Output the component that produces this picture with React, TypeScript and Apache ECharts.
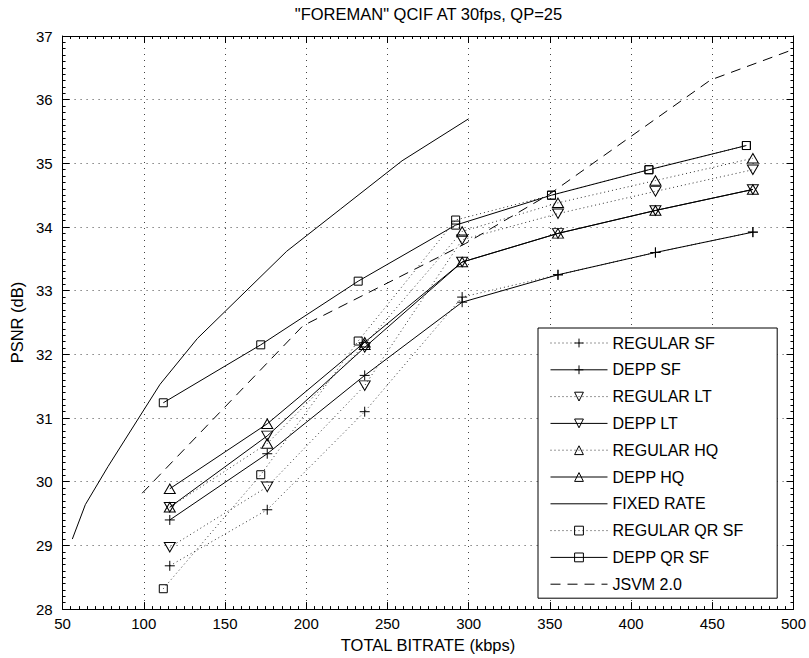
import React, { useEffect, useRef } from 'react';
import * as echarts from 'echarts';

const FONT = '"Liberation Sans", Arial, Helvetica, sans-serif';

const titleText = '"FOREMAN" QCIF AT 30fps, QP=25';
const xName = 'TOTAL BITRATE (kbps)';
const yName = 'PSNR (dB)';

// bitrates (kbps) of the marker series
const squareRates = [112, 172, 232, 292, 351, 411, 471];
const markerRates = [116, 176, 236, 296, 355, 415, 475];

// PSNR values (dB)
const regularSF = [28.68, 29.56, 31.10, 32.90, 33.25, 33.60, 33.92];
const deppSF = [29.40, 30.44, 31.67, 32.82, 33.25, 33.60, 33.92];
const regularLT = [28.97, 29.92, 31.51, 33.80, 34.21, 34.56, 34.90];
const deppLT = [29.60, 30.72, 32.11, 33.45, 33.90, 34.26, 34.59];
const regularHQ = [29.60, 30.60, 32.15, 33.93, 34.38, 34.73, 35.08];
const deppHQ = [29.89, 30.91, 32.19, 33.45, 33.90, 34.26, 34.59];
const regularQRSF = [28.32, 30.11, 32.21, 34.11, 34.50, 34.90, 35.28];
const deppQRSF = [31.24, 32.15, 33.15, 34.03, 34.50, 34.90, 35.28];

const fixedRateX = [56, 64, 78, 110, 133, 188, 221, 259, 300];
const fixedRateY = [29.10, 29.64, 30.24, 31.53, 32.25, 33.62, 34.28, 35.04, 35.70];

const jsvmX = [99, 198, 298, 350, 449, 500];
const jsvmY = [29.82, 32.45, 33.74, 34.52, 36.31, 36.79];

const PLUS = 'path://M5,0L5,10M0,5L10,5';

function pairs(xs: number[], ys: number[]) {
  return xs.map((x, i) => [x, ys[i]]);
}

const solidLine = { type: 'solid', width: 1, color: '#000' };
const dottedLine = { type: [1, 3], width: 1, color: '#333' };
const dashedLine = { type: [10, 7], width: 1, color: '#000' };

function markerSeries(name: string, xs: number[], ys: number[], symbol: string, size: any, rotate: number, line: any) {
  return {
    name,
    type: 'line',
    data: pairs(xs, ys),
    symbol,
    symbolSize: size,
    symbolRotate: rotate,
    showSymbol: true,
    showAllSymbol: true,
    lineStyle: line,
    itemStyle: { color: 'rgba(0,0,0,0)', borderColor: '#000', borderWidth: 1 },
    emphasis: { disabled: true },
    silent: true,
    clip: false,
    z: 3,
  };
}

function plainSeries(name: string, xs: number[], ys: number[], line: any) {
  return {
    name,
    type: 'line',
    data: pairs(xs, ys),
    symbol: 'circle',
    symbolSize: 0,
    showSymbol: false,
    lineStyle: line,
    itemStyle: { color: 'rgba(0,0,0,0)', borderColor: 'rgba(0,0,0,0)', borderWidth: 0 },
    emphasis: { disabled: true },
    silent: true,
    z: 2,
  };
}

const TRI = [11, 9.5];

export default function App() {
  const ref = useRef<HTMLDivElement>(null);
  useEffect(() => {
    if (!ref.current) return;
    const chart = echarts.init(ref.current, undefined, { renderer: 'svg' });
    const series = [
      markerSeries('REGULAR SF', markerRates, regularSF, PLUS, 10, 0, dottedLine),
      markerSeries('DEPP SF', markerRates, deppSF, PLUS, 10, 0, solidLine),
      markerSeries('REGULAR LT', markerRates, regularLT, 'triangle', TRI, 180, dottedLine),
      markerSeries('DEPP LT', markerRates, deppLT, 'triangle', TRI, 180, solidLine),
      markerSeries('REGULAR HQ', markerRates, regularHQ, 'triangle', TRI, 0, dottedLine),
      markerSeries('DEPP HQ', markerRates, deppHQ, 'triangle', TRI, 0, solidLine),
      plainSeries('FIXED RATE', fixedRateX, fixedRateY, solidLine),
      markerSeries('REGULAR QR SF', squareRates, regularQRSF, 'rect', 8, 0, dottedLine),
      markerSeries('DEPP QR SF', squareRates, deppQRSF, 'rect', 8, 0, solidLine),
      plainSeries('JSVM 2.0', jsvmX, jsvmY, dashedLine),
    ];
    const axisCommon = {
      axisLine: { show: true, onZero: false, lineStyle: { color: '#000', width: 1 } },
      axisTick: { show: true, inside: true, length: 7, lineStyle: { color: '#000', width: 1 } },
      minorTick: { show: true, splitNumber: 10, length: 3, lineStyle: { color: '#000', width: 1 } },
    };
    const gridLine = { show: true, lineStyle: { color: '#444', type: [1, 5], width: 1 } };
    chart.setOption({
      animation: false,
      backgroundColor: '#fff',
      grid: { left: 62, top: 36, right: 14, bottom: 45, containLabel: false },
      graphic: [
        {
          type: 'text',
          x: 428.5,
          y: 14,
          style: {
            text: titleText,
            align: 'center',
            verticalAlign: 'middle',
            fontSize: 16.5,
            fontFamily: FONT,
            fill: '#000',
          },
        },
      ],
      xAxis: [
        {
          type: 'value',
          min: 50,
          max: 500,
          interval: 50,
          position: 'bottom',
          ...axisCommon,
          axisLabel: { color: '#000', fontSize: 15, fontFamily: FONT, margin: 7 },
          splitLine: gridLine,
          name: xName,
          nameLocation: 'middle',
          nameGap: 24,
          nameTextStyle: { color: '#000', fontSize: 16.5, fontFamily: FONT },
        },
        {
          type: 'value',
          min: 50,
          max: 500,
          interval: 50,
          position: 'top',
          ...axisCommon,
          axisLabel: { show: false },
          splitLine: { show: false },
        },
      ],
      yAxis: [
        {
          type: 'value',
          min: 28,
          max: 37,
          interval: 1,
          position: 'left',
          ...axisCommon,
          axisLabel: { color: '#000', fontSize: 15, fontFamily: FONT, margin: 10 },
          splitLine: gridLine,
          name: yName,
          nameLocation: 'middle',
          nameGap: 34,
          nameTextStyle: { color: '#000', fontSize: 16.5, fontFamily: FONT },
        },
        {
          type: 'value',
          min: 28,
          max: 37,
          interval: 1,
          position: 'right',
          ...axisCommon,
          axisLabel: { show: false },
          splitLine: { show: false },
        },
      ],
      legend: {
        orient: 'vertical',
        left: 538,
        top: 328,
        itemWidth: 57,
        itemHeight: 11,
        itemGap: 9.8,
        padding: [6.5, 34, 5.5, 12],
        backgroundColor: '#fff',
        borderColor: '#000',
        borderWidth: 1,
        borderRadius: 0,
        selectedMode: false,
        textStyle: { fontSize: 16, fontFamily: FONT, color: '#000', lineHeight: 17 },
        itemStyle: { borderWidth: 1 },
        lineStyle: { width: 1 },
        data: series.map((s) => s.name),
      },
      series,
    });
    return () => chart.dispose();
  }, []);
  return (
    <div
      ref={ref}
      style={{ position: 'absolute', left: 0, top: 0, width: 809, height: 658, background: '#fff' }}
    />
  );
}
